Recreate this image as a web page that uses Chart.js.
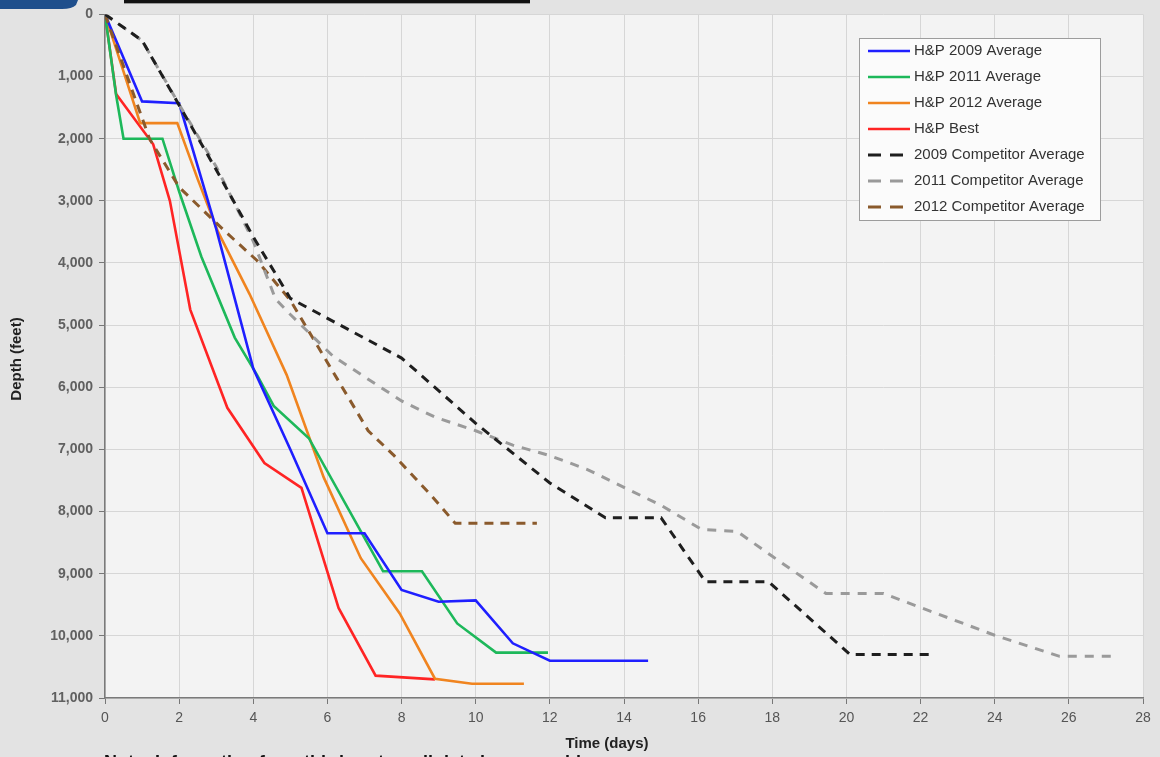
<!DOCTYPE html>
<html>
<head>
<meta charset="utf-8">
<script src="https://cdn.jsdelivr.net/npm/chart.js@4.4.1/dist/chart.umd.min.js"></script>
<style>
  html, body { margin: 0; padding: 0; overflow: hidden; background: #e3e3e3; }
  #wrap { position: relative; width: 1160px; height: 757px; }
</style>
</head>
<body>
<div id="wrap"><canvas id="c"></canvas></div>
<script>
// ---- data ----
const xTicks = [0, 2, 4, 6, 8, 10, 12, 14, 16, 18, 20, 22, 24, 26, 28];
const yTicks = [0, 1000, 2000, 3000, 4000, 5000, 6000, 7000, 8000, 9000, 10000, 11000];

const seriesLabels = ["H&P 2009 Average", "H&P 2011 Average", "H&P 2012 Average", "H&P Best",
  "2009 Competitor Average", "2011 Competitor Average", "2012 Competitor Average"];

const hp2009Days  = [0, 1, 2, 3, 4, 5, 6, 7, 8, 9, 10, 11, 12, 14.65];
const hp2009Depth = [0, 1400, 1430, 3450, 5700, 7000, 8350, 8350, 9260, 9450, 9430, 10120, 10400, 10400];

const hp2011Days  = [0, 0.3, 0.5, 1.55, 2.0, 2.6, 3.5, 4.1, 4.55, 5.5, 7.5, 8.55, 9.5, 10.55, 11.95];
const hp2011Depth = [0, 1300, 2000, 2000, 2850, 3900, 5200, 5800, 6300, 6820, 8960, 8960, 9800, 10270, 10270];

const hp2012Days  = [0, 0.95, 1.95, 2.5, 3.05, 3.9, 4.9, 5.9, 6.9, 7.95, 8.9, 9.9, 11.3];
const hp2012Depth = [0, 1750, 1750, 2650, 3500, 4500, 5800, 7450, 8750, 9640, 10690, 10770, 10770];

const hpBestDays  = [0, 0.3, 1.3, 1.75, 2.3, 3.3, 4.3, 5.3, 6.3, 7.3, 8.9];
const hpBestDepth = [0, 1280, 2090, 3000, 4750, 6330, 7220, 7620, 9550, 10640, 10700];

const comp2009Days  = [0, 1, 3, 4, 5, 7, 8, 10, 12, 13.5, 15, 16.2, 17.9, 20.1, 22.4];
const comp2009Depth = [0, 420, 2500, 3580, 4570, 5210, 5530, 6580, 7540, 8100, 8100, 9130, 9130, 10300, 10300];

const comp2011Days  = [0, 1, 2, 3, 4, 4.6, 5, 6.15, 8, 8.9, 10, 11, 12, 13, 15, 16.1, 17.05, 18, 19.45, 21, 24, 25.75, 27.2];
const comp2011Depth = [0, 420, 1450, 2450, 3650, 4580, 4830, 5500, 6220, 6480, 6700, 6930, 7100, 7320, 7900, 8290, 8320, 8720, 9320, 9320, 9990, 10330, 10330];

const comp2012Days  = [0, 1.2, 2, 3.2, 4.1, 5, 7.1, 7.8, 8.8, 9.45, 11.65];
const comp2012Depth = [0, 2000, 2780, 3470, 3960, 4600, 6700, 7100, 7740, 8190, 8190];

// ---- build ----
const pts = (xs, ys) => xs.map((x, i) => ({ x: x, y: ys[i] }));
const seriesDays  = [hp2009Days, hp2011Days, hp2012Days, hpBestDays, comp2009Days, comp2011Days, comp2012Days];
const seriesDepth = [hp2009Depth, hp2011Depth, hp2012Depth, hpBestDepth, comp2009Depth, comp2011Depth, comp2012Depth];
const styles = [
  { c: "#1f1fff", w: 2.6, d: [] },
  { c: "#1db85a", w: 2.6, d: [] },
  { c: "#f0841f", w: 2.6, d: [] },
  { c: "#ff2424", w: 2.6, d: [] },
  { c: "#1e1e1e", w: 3.0, d: [9, 7] },
  { c: "#9a9a9a", w: 3.0, d: [9, 8] },
  { c: "#8a5a2c", w: 3.0, d: [9, 7] }
];

const datasets = seriesLabels.map((lab, i) => ({
  label: lab,
  data: pts(seriesDays[i], seriesDepth[i]),
  borderColor: styles[i].c,
  backgroundColor: styles[i].c,
  borderWidth: styles[i].w,
  borderDash: styles[i].d,
  pointRadius: 0,
  tension: 0,
  fill: false,
  order: i < 4 ? 1 : 0
}));

const decorPlugin = {
  id: "decor",
  beforeDraw(chart) {
    const ctx = chart.ctx, a = chart.chartArea;
    ctx.save();
    ctx.fillStyle = "#e3e3e3";
    ctx.fillRect(0, 0, chart.width, chart.height);
    ctx.fillStyle = "#f3f3f3";
    ctx.fillRect(a.left, a.top, a.right - a.left, a.bottom - a.top);
    ctx.restore();
  },
  afterDraw(chart) {
    const ctx = chart.ctx;
    ctx.save();
    // top decorations
    ctx.fillStyle = "#1f4f8c";
    ctx.beginPath();
    ctx.moveTo(0, 0); ctx.lineTo(78, 0); ctx.lineTo(76, 5);
    ctx.quadraticCurveTo(72, 9, 62, 9); ctx.lineTo(0, 9); ctx.closePath(); ctx.fill();
    ctx.fillStyle = "#111";
    ctx.fillRect(124, 0, 406, 3);
    ctx.fillStyle = "#9a9a9a";
    ctx.fillRect(124, 3, 406, 1);

    // axis titles
    ctx.fillStyle = "#222";
    ctx.font = "bold 15px 'Liberation Sans Narrow', 'Liberation Sans', Arial";
    ctx.textAlign = "center";
    ctx.textBaseline = "middle";
    ctx.fillText("Time (days)", 607, 744);
    ctx.save();
    ctx.translate(17, 359);
    ctx.rotate(-Math.PI / 2);
    ctx.fillText("Depth (feet)", 0, 0);
    ctx.restore();

    // clipped note at bottom
    ctx.fillStyle = "#111";
    ctx.font = "bold 18px 'Liberation Sans', Arial";
    ctx.textAlign = "left";
    ctx.textBaseline = "alphabetic";
    ctx.fillText("Note: Information from third-party well data base provider", 104, 768);

    // legend box
    const bx = 859, by = 38, bw = 241, bh = 182;
    ctx.fillStyle = "#fbfbfb";
    ctx.fillRect(bx, by, bw, bh);
    ctx.strokeStyle = "#9c9c9c";
    ctx.lineWidth = 1;
    ctx.strokeRect(bx + 0.5, by + 0.5, bw, bh);
    ctx.font = "15px 'Liberation Sans', Arial";
    ctx.textBaseline = "middle";
    chart.data.datasets.forEach((ds, i) => {
      const yy = 51 + i * 26;
      ctx.save();
      ctx.strokeStyle = ds.borderColor;
      ctx.lineWidth = ds.borderDash.length ? 3 : 2.6;
      if (ds.borderDash.length) {
        ctx.setLineDash([13, 9]);
        ctx.beginPath(); ctx.moveTo(868, yy); ctx.lineTo(903, yy); ctx.stroke();
      } else {
        ctx.beginPath(); ctx.moveTo(868, yy); ctx.lineTo(910, yy); ctx.stroke();
      }
      ctx.restore();
      ctx.fillStyle = "#333";
      ctx.fillText(ds.label, 914, yy);
    });
    ctx.restore();
  }
};

new Chart(document.getElementById("c"), {
  type: "line",
  data: { datasets: datasets },
  plugins: [decorPlugin],
  options: {
    responsive: true,
    maintainAspectRatio: false,
    animation: false,
    layout: { padding: { left: 0, top: 14, right: 17, bottom: 0 } },
    plugins: { legend: { display: false }, tooltip: { enabled: false } },
    scales: {
      x: {
        type: "linear",
        min: 0, max: 28,
        afterFit(s) { s.height = 59; },
        afterBuildTicks(s) { s.ticks = xTicks.map(v => ({ value: v })); },
        ticks: {
          color: "#555",
          font: { family: "'Liberation Sans Narrow', 'Liberation Sans', Arial", size: 14 },
          padding: 6,
          maxRotation: 0
        },
        grid: { color: "#d6d6d6", lineWidth: 1, tickColor: "#777", tickLength: 6 },
        border: { color: "#7a7a7a", width: 1.5 }
      },
      y: {
        type: "linear",
        reverse: true,
        min: 0, max: 11000,
        afterFit(s) { s.width = 105; },
        afterBuildTicks(s) { s.ticks = yTicks.map(v => ({ value: v })); },
        ticks: {
          color: "#606060",
          font: { family: "'Liberation Sans', Arial", size: 14, weight: "bold" },
          padding: 6,
          callback: v => v.toLocaleString("en-US")
        },
        grid: { color: "#d6d6d6", lineWidth: 1, tickColor: "#777", tickLength: 6 },
        border: { color: "#7a7a7a", width: 1.5 }
      }
    }
  }
});
</script>
</body>
</html>
